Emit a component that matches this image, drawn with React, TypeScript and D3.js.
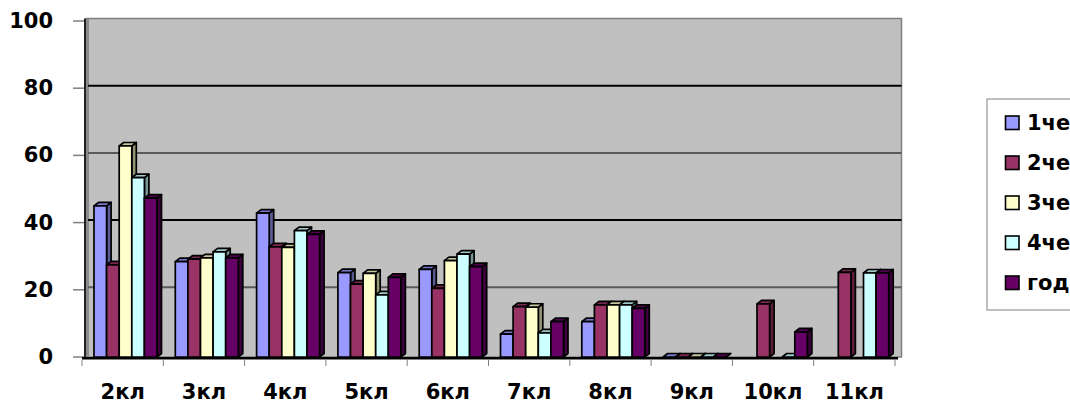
import { FC, useEffect } from 'react';
import * as d3 from 'd3';

// grades along the x axis
const categories = ['2кл', '3кл', '4кл', '5кл', '6кл', '7кл', '8кл', '9кл', '10кл', '11кл'];
const seriesNames = ['1че', '2че', '3че', '4че', 'год'];
const seriesColors = ['#9999FF', '#993366', '#FFFFCC', '#CCFFFF', '#660066'];

// values (null = no bar)
const q1 = [45, 28.4, 42.8, 25.1, 26.1, 6.8, 10.5, 0, null, null];
const q2 = [27.4, 29.1, 32.8, 21.7, 20.4, 15, 15.5, 0, 15.8, 25.2];
const q3 = [62.8, 29.5, 32.6, 24.9, 28.7, 14.8, 15.5, 0, null, null];
const q4 = [53.4, 31.3, 37.6, 18.5, 30.6, 7.2, 15.5, 0, 0, 25];
const year = [47.3, 29.5, 36.5, 23.7, 26.9, 10.5, 14.5, 0, 7.5, 25];
const seriesValues = [q1, q2, q3, q4, year];

const yTicks = [0, 20, 40, 60, 80, 100];

const FONT = '"DejaVu Sans", Verdana, sans-serif';

const Chart: FC = () => {
  const width = 1070;
  const height = 403;

  const x = d3.scaleBand<string>().domain(categories).range([82, 895]);
  const inner = d3.scaleBand<string>().domain(seriesNames).range([12, 75]);
  const y = d3.scaleLinear().domain([0, 100]).range([357, 21]);

  const dx = 4.5;
  const dy = 3.5;
  const wallLeft = 86;
  const wallRight = 901.5;
  const wallTop = 18.5;
  const base = y(0);

  const poly = (pts: [number, number][]) => {
    const p = d3.path();
    pts.forEach(([px, py], i) => (i ? p.lineTo(px, py) : p.moveTo(px, py)));
    p.closePath();
    return p.toString();
  };

  const bars: JSX.Element[] = [];
  categories.forEach((cat, ci) => {
    seriesNames.forEach((s, si) => {
      const v = seriesValues[si][ci];
      if (v === null || v === undefined) return;
      const color = seriesColors[si];
      const x0 = (x(cat) ?? 0) + (inner(s) ?? 0);
      const w = inner.bandwidth();
      const y0 = y(v);
      const side = d3.color(color)!.darker(1.5).toString();
      const top = d3.color(color)!.darker(0.7).toString();
      bars.push(
        <g key={`${cat}-${s}`} stroke="#000" strokeWidth={1.7} strokeLinejoin="round">
          <path
            d={poly([[x0 + w, y0], [x0 + w + dx, y0 - dy], [x0 + w + dx, base - dy], [x0 + w, base]])}
            fill={side}
          />
          <path
            d={poly([[x0, y0], [x0 + dx, y0 - dy], [x0 + w + dx, y0 - dy], [x0 + w, y0]])}
            fill={top}
          />
          <rect x={x0} y={y0} width={w} height={base - y0} fill={color} />
        </g>
      );
    });
  });

  return (
    <svg
      width={width}
      height={height}
      style={{ position: 'absolute', left: 0, top: 0, display: 'block', background: '#fff' }}
    >
      {/* back wall */}
      <rect
        x={wallLeft}
        y={wallTop}
        width={wallRight - wallLeft}
        height={base - wallTop}
        fill="#C0C0C0"
        stroke="#808080"
        strokeWidth={1.5}
      />
      {/* left side wall */}
      <path d={poly([[84, wallTop + 2], [89, wallTop], [89, base], [84, base + 1]])} fill="#8a8a8a" />

      {/* gridlines */}
      {yTicks
        .filter(t => t > 0 && t < 100)
        .map((t, i) => (
          <line
            key={`g${t}`}
            x1={88}
            x2={wallRight}
            y1={y(t) - 2.5}
            y2={y(t) - 2.5}
            stroke={i % 2 === 0 ? '#5a5a5a' : '#000'}
            strokeWidth={2}
          />
        ))}

      {/* y axis */}
      <line x1={85} x2={85} y1={wallTop} y2={base + 1} stroke="#222" strokeWidth={2} />
      {yTicks.map(t => (
        <g key={`t${t}`}>
          <line x1={73} x2={84} y1={y(t)} y2={y(t)} stroke="#808080" strokeWidth={1.5} />
          <text
            x={53}
            y={y(t)}
            textAnchor="end"
            dominantBaseline="central"
            fontFamily={FONT}
            fontWeight="bold"
            fontSize={21}
            fill="#000"
          >
            {t}
          </text>
        </g>
      ))}

      {bars}

      {/* x axis */}
      <line x1={82} x2={898} y1={base + 1.2} y2={base + 1.2} stroke="#000" strokeWidth={2.5} />
      {[...categories.map(c => x(c) ?? 0), 895].map((tx, i) => (
        <line key={`xt${i}`} x1={tx} x2={tx} y1={base + 3} y2={base + 9} stroke="#808080" strokeWidth={1} />
      ))}
      {categories.map(c => (
        <text
          key={`xl${c}`}
          x={(x(c) ?? 0) + x.bandwidth() / 2}
          y={399}
          textAnchor="middle"
          fontFamily={FONT}
          fontWeight="bold"
          fontSize={21}
          fill="#000"
        >
          {c}
        </text>
      ))}

      {/* legend */}
      <rect x={987} y={99} width={100} height={211} fill="#fff" stroke="#808080" strokeWidth={1} />
      {seriesNames.map((s, i) => {
        const cy = 123 + i * 40;
        return (
          <g key={`l${s}`}>
            <rect x={1005.5} y={cy - 7} width={13.5} height={13.5} fill={seriesColors[i]} stroke="#000" strokeWidth={1.6} />
            <text
              x={1027}
              y={cy}
              dominantBaseline="central"
              fontFamily={FONT}
              fontWeight="bold"
              fontSize={21}
              fill="#000"
            >
              {s}
            </text>
          </g>
        );
      })}
    </svg>
  );
};

export default function App() {
  useEffect(() => {
    document.body.style.margin = '0';
  }, []);
  return <Chart />;
}
